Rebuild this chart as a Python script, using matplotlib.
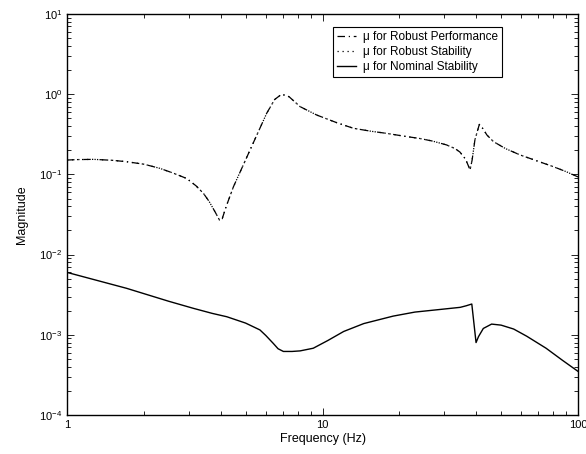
import numpy as np
import matplotlib
matplotlib.use('Agg')
import matplotlib.pyplot as plt
from matplotlib.ticker import LogLocator, NullFormatter, FixedLocator, FixedFormatter

plt.rcParams['font.family'] = ['Liberation Sans', 'DejaVu Sans']
plt.rcParams['mathtext.default'] = 'regular'

# values (Hz, magnitude)
f_rp = [1.0, 1.1, 1.27, 1.5, 1.71, 2.0, 2.31, 2.6, 2.94, 3.2, 3.42, 3.6, 3.8,
        3.95, 4.05, 4.2, 4.48, 5.2, 6.05, 6.5, 6.92, 7.4, 8.17, 9.49, 11.4,
        13.2, 15.5, 17.8, 20.8, 24.1, 27.0, 30.6, 33.0, 34.5, 36.3, 37.8,
        38.5, 39.5, 41.1, 42.5, 44.0, 46.7, 52.0, 59.3, 68.0, 80.0, 90.0, 100.0]
mu_rp = [0.151, 0.153, 0.154, 0.150, 0.144, 0.134, 0.119, 0.104, 0.089, 0.072,
         0.058, 0.046, 0.034, 0.027, 0.028, 0.040, 0.070, 0.20, 0.58, 0.86,
         1.0, 0.93, 0.70, 0.55, 0.44, 0.376, 0.345, 0.325, 0.30, 0.28, 0.26,
         0.233, 0.21, 0.19, 0.155, 0.114, 0.15, 0.27, 0.42, 0.37, 0.31, 0.256,
         0.21, 0.175, 0.15, 0.125, 0.108, 0.093]

f_rs = f_rp
mu_rs = mu_rp

f_ns = [1.0, 1.71, 2.5, 3.12, 3.7, 4.22, 5.0, 5.69, 6.0, 6.42, 6.7, 7.03, 7.6,
        8.17, 9.2, 10.5, 12.1, 14.5, 18.9, 23.0, 29.7, 34.6, 36.5, 38.4, 39.9,
        40.8, 42.6, 45.9, 50.0, 56.0, 63.0, 75.0, 87.0, 100.0]
mu_ns = [0.0060, 0.0038, 0.00262, 0.00214, 0.00185, 0.00168, 0.00140,
         0.00115, 0.00098, 0.00078, 0.00067, 0.00062, 0.00062, 0.00063,
         0.00068, 0.00085, 0.0011, 0.00138, 0.00171, 0.00192, 0.00209, 0.0022,
         0.0023, 0.00242, 0.0008, 0.00095, 0.0012, 0.00136, 0.00132, 0.00118,
         0.00096, 0.00068, 0.00048, 0.00035]

fig = plt.figure(figsize=(5.86, 4.54), dpi=100)
ax = fig.add_axes([67/586, (454-415)/454, 511/586, 401/454])

ax.loglog(f_rp, mu_rp, color='k', lw=0.9, ls=(0, (6, 3, 1, 3)),
          label='\u03bc for Robust Performance')
ax.loglog(f_rs, mu_rs, color='k', lw=0.9, ls=(0, (1, 3)),
          label='\u03bc for Robust Stability')
ax.loglog(f_ns, mu_ns, color='k', lw=1.0, ls='-',
          label='\u03bc for Nominal Stability')

ax.set_xlim(1, 100)
ax.set_ylim(1e-4, 1e1)

ax.xaxis.set_major_locator(FixedLocator([1, 10, 100]))
ax.xaxis.set_major_formatter(FixedFormatter(['1', '10', '100']))
ax.xaxis.set_minor_locator(LogLocator(base=10, subs=np.arange(2, 10)))
ax.xaxis.set_minor_formatter(NullFormatter())
ax.yaxis.set_major_locator(LogLocator(base=10, numticks=10))
ax.yaxis.set_minor_locator(LogLocator(base=10, subs=np.arange(2, 10), numticks=20))
ax.yaxis.set_minor_formatter(NullFormatter())

ax.tick_params(which='both', direction='in', top=True, right=True,
               labelsize=8, width=0.6)
ax.tick_params(which='major', length=5)
ax.tick_params(which='minor', length=3)
for s in ax.spines.values():
    s.set_linewidth(1.0)

ax.set_xlabel('Frequency (Hz)', fontsize=9, labelpad=2)
ax.set_ylabel('Magnitude', fontsize=9, labelpad=8)

leg = ax.legend(loc='upper right', bbox_to_anchor=(0.851, 0.968), fontsize=8.5,
                frameon=True, fancybox=False, edgecolor='k', framealpha=1,
                handlelength=1.6, borderpad=0.35, labelspacing=0.25,
                handletextpad=0.6, borderaxespad=0)
leg.get_frame().set_linewidth(0.8)

fig.savefig('out.png', dpi=100)
